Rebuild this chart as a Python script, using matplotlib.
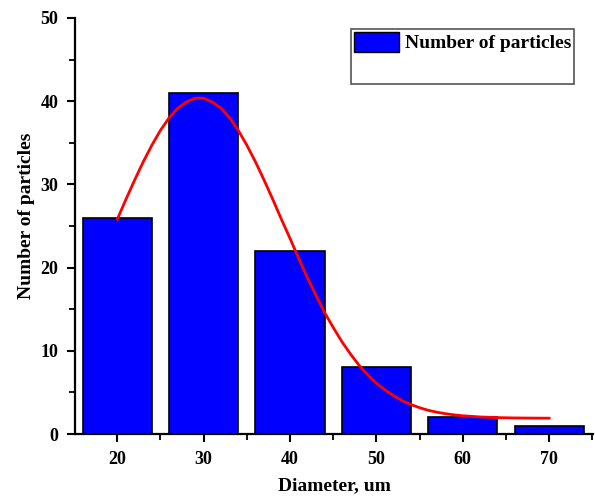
import matplotlib
matplotlib.use("Agg")
import matplotlib.pyplot as plt
from matplotlib.patches import Patch
from matplotlib.ticker import MultipleLocator

# histogram data
diameters = [20, 30, 40, 50, 60, 70]
counts = [26, 41, 22, 8, 2, 1]

# red fit curve
fit_x = [20, 21, 22, 23, 24, 25, 26, 27, 28, 29, 30, 31, 32, 33, 34, 35, 36, 37, 38, 39,
         40, 41, 42, 43, 44, 45, 46, 47, 48, 49, 50, 51, 52, 53, 54, 55, 56, 57, 58, 59,
         60, 62, 64, 66, 68, 70]
fit_y = [25.8, 28.2, 30.5, 32.7, 34.7, 36.5, 38.0, 39.15, 39.9, 40.35, 40.35, 39.9, 39.15,
         38.0, 36.5, 34.7, 32.7, 30.5, 28.2, 25.8, 23.5, 21.1, 18.8, 16.65, 14.6, 12.8, 11.1,
         9.6, 8.25, 7.1, 6.1, 5.3, 4.6, 4.0, 3.54, 3.16, 2.85, 2.62, 2.44, 2.3, 2.19, 2.05,
         1.97, 1.93, 1.91, 1.9]

plt.rcParams['font.family'] = ['Liberation Serif', 'DejaVu Serif']

fig = plt.figure(figsize=(5.95, 4.98), dpi=100)
ax = fig.add_axes([0.126, 0.1285, 0.871, 0.8355])

ax.bar(diameters, counts, width=8, color='#0000ff', edgecolor='black', linewidth=1.2, zorder=2)
ax.plot(fit_x, fit_y, color='red', linewidth=2, zorder=3)

ax.set_xlim(15.1, 75.1)
ax.set_ylim(0, 50)
ax.xaxis.set_major_locator(MultipleLocator(10))
ax.xaxis.set_minor_locator(MultipleLocator(5))
ax.yaxis.set_major_locator(MultipleLocator(10))
ax.yaxis.set_minor_locator(MultipleLocator(5))

for s in ['top', 'right']:
    ax.spines[s].set_visible(False)
for s in ['left', 'bottom']:
    ax.spines[s].set_linewidth(1.6)

ax.tick_params(which='major', direction='out', length=6, width=1.5, labelsize=13, pad=6)
ax.tick_params(which='minor', direction='out', length=4, width=1.3)
for lbl in ax.get_xticklabels() + ax.get_yticklabels():
    lbl.set_fontweight('bold')

ax.set_xlabel('Diameter, um', fontsize=14, fontweight='bold', labelpad=7)
ax.set_ylabel('Number of particles', fontsize=14, fontweight='bold')
ax.yaxis.set_label_coords(-0.077, 0.524)

handles = [Patch(facecolor='#0000ff', edgecolor='black'), Patch(alpha=0)]
leg = ax.legend(handles, ['Number of particles', ' '], loc='upper right',
                bbox_to_anchor=(0.963, 0.974), borderaxespad=0,
                prop={'size': 14, 'weight': 'bold'}, fancybox=False,
                edgecolor='#555555', framealpha=1, handlelength=2.3, handleheight=1.2,
                handletextpad=0.3, borderpad=0.15, labelspacing=0.45)
leg.get_frame().set_linewidth(1.2)

fig.savefig('out.png', dpi=100)
